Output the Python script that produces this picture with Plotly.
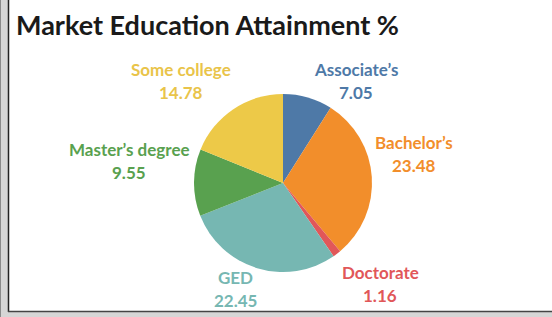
import plotly.graph_objects as go

categories = ["Associate’s", "Bachelor’s", "Doctorate", "GED", "Master’s degree", "Some college"]
values = [7.05, 23.48, 1.16, 22.45, 9.55, 14.78]
colors = ["#4e79a7", "#f28e2b", "#e15759", "#76b7b2", "#59a14f", "#edc948"]
label_colors = ["#4e79a7", "#f28e2b", "#e15759", "#76b7b2", "#59a14f", "#e9c44a"]
# label anchor positions (pixel centers in the 552x317 canvas)
label_pos = [(356, 70), (414, 142), (380, 272), (235, 277), (129, 149), (181, 70)]

W, H = 552, 317
fig = go.Figure()
fig.add_trace(go.Pie(
    labels=categories, values=values, sort=False, direction="clockwise", rotation=0,
    marker=dict(colors=colors, line=dict(width=0)),
    textinfo="none", hoverinfo="label+value", showlegend=False,
    domain=dict(x=[(283 - 89) / W, (283 + 89) / W], y=[1 - (183 + 89) / H, 1 - (183 - 89) / H]),
))

font_fam = "Lato, 'Open Sans', sans-serif"
annotations = [dict(text="<b>Market Education Attainment %</b>", x=14 / W, y=1 - 25 / H,
                    xref="paper", yref="paper", xanchor="left", yanchor="middle", showarrow=False,
                    font=dict(family=font_fam, size=27, color="#1a1a1a"))]
for cat, val, col, (px, py) in zip(categories, values, label_colors, label_pos):
    annotations.append(dict(text=f"<b>{cat}</b>", x=px / W, y=1 - py / H, xref="paper", yref="paper",
                            xanchor="center", yanchor="middle", showarrow=False,
                            font=dict(family=font_fam, size=17, color=col)))
    annotations.append(dict(text=f"<b>{val:.2f}</b>", x=px / W, y=1 - (py + 23) / H, xref="paper", yref="paper",
                            xanchor="center", yanchor="middle", showarrow=False,
                            font=dict(family=font_fam, size=17, color=col)))

shapes = [
    dict(type="rect", xref="paper", yref="paper", x0=0, x1=8 / W, y0=0, y1=1,
         fillcolor="#d6d6d6", line=dict(width=0), layer="below"),
    dict(type="rect", xref="paper", yref="paper", x0=0, x1=1, y0=0, y1=5 / H,
         fillcolor="#d6d6d6", line=dict(width=0), layer="below"),
    dict(type="line", xref="paper", yref="paper", x0=0.5 / W, x1=0.5 / W, y0=0, y1=1,
         line=dict(color="#8a8a8a", width=1)),
    dict(type="line", xref="paper", yref="paper", x0=8.5 / W, x1=8.5 / W, y0=5 / H, y1=1,
         line=dict(color="#222222", width=1.5)),
    dict(type="line", xref="paper", yref="paper", x0=8 / W, x1=1, y0=5.5 / H, y1=5.5 / H,
         line=dict(color="#444444", width=1.5)),
]

fig.update_layout(
    width=W, height=H, margin=dict(l=0, r=0, t=0, b=0),
    paper_bgcolor="white", plot_bgcolor="white",
    annotations=annotations, shapes=shapes,
)
fig.write_html("out.html", config={"displayModeBar": False},
               post_script="document.body.style.margin='0';document.body.style.overflow='hidden';")
